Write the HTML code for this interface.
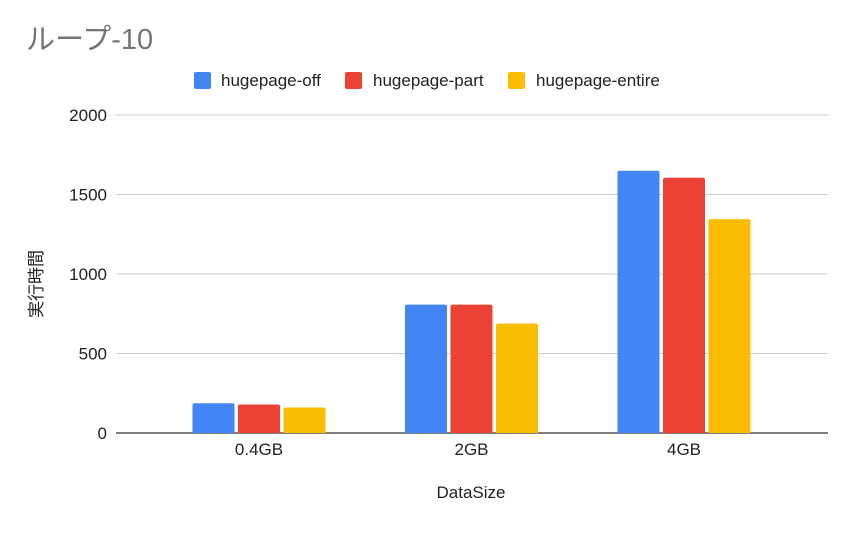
<!DOCTYPE html>
<html><head><meta charset="utf-8"><style>
body{margin:0;background:#fff;font-family:"Liberation Sans","Noto Sans CJK JP",sans-serif}
svg text{font-family:"Liberation Sans","Noto Sans CJK JP",sans-serif}
</style></head><body>
<svg id="c" width="854" height="528" xmlns="http://www.w3.org/2000/svg">
<text x="26" y="49" font-size="29" fill="#757575">ループ-10</text>
<g>
<rect x="194" y="72" width="17" height="17" rx="2" fill="#4285f4"/>
<text x="221" y="86" font-size="17" fill="#222">hugepage-off</text>
<rect x="345" y="72" width="17" height="17" rx="2" fill="#ea4335"/>
<text x="373" y="86" font-size="17" fill="#222">hugepage-part</text>
<rect x="508" y="72" width="17" height="17" rx="2" fill="#fbbc04"/>
<text x="536" y="86" font-size="17" fill="#222">hugepage-entire</text>
</g>
<g id="grid"></g><g id="bars"></g><g id="xl"></g>
<text x="471" y="498" font-size="17" fill="#222" text-anchor="middle">DataSize</text>
<text transform="translate(42,284) rotate(-90)" font-size="17" fill="#222" text-anchor="middle">実行時間</text>
</svg>
<script>
const categories=["0.4GB","2GB","4GB"];
const hugepageOff=[187,807,1649];
const hugepagePart=[179,807,1605];
const hugepageEntire=[160,689,1345];
const yTicks=[0,500,1000,1500,2000];
const NS="http://www.w3.org/2000/svg";
const y0=433,yTop=115,yMax=2000;
function y(v){return y0-(y0-yTop)*v/yMax;}
const bandL=152.75,band=212.5;
function xc(i){return bandL+band*(i+0.5);}
function mk(t,a,p){const e=document.createElementNS(NS,t);for(const k in a)e.setAttribute(k,a[k]);p.appendChild(e);return e;}
const g=document.getElementById('grid');
yTicks.forEach(v=>{
 const l=mk('line',{x1:116,x2:828,y1:y(v),y2:y(v),stroke:v===0?'#333':'#ccc','stroke-width':v===0?1.3:1},g);
 
 
 const t=mk('text',{x:107,y:y(v)+6,'font-size':17,fill:'#222','text-anchor':'end'},g);
 t.textContent=v;
 
 
});
const series=[[hugepageOff,'#4285f4','off'],[hugepagePart,'#ea4335','part'],[hugepageEntire,'#fbbc04','entire']];
const bw=42,gap=3.5;
const b=document.getElementById('bars'),xl=document.getElementById('xl');
categories.forEach((c,i)=>{
 series.forEach((s,j)=>{
  const x=xc(i)-(3*bw+2*gap)/2+j*(bw+gap);
  const r=mk('path',{d:`M${x},${y0} V${y(s[0][i])+2} q0,-2 2,-2 H${x+bw-2} q2,0 2,2 V${y0} Z`,fill:s[1]},b);
  
  
 });
 const t=mk('text',{x:xc(i),y:455,'font-size':17,fill:'#222','text-anchor':'middle'},xl);
 t.textContent=c;
 
 
});
</script>
</body></html>
